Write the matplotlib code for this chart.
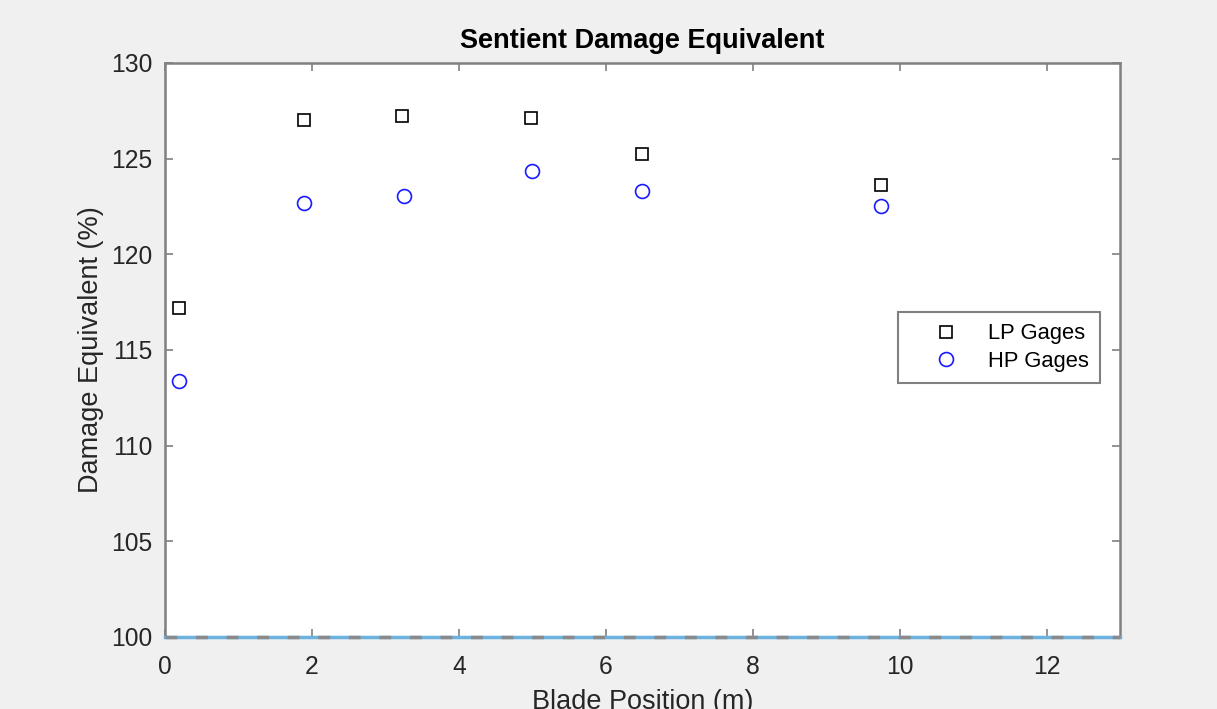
import matplotlib
matplotlib.use("Agg")
import matplotlib.pyplot as plt

plt.rcParams['font.family'] = ['Liberation Sans', 'DejaVu Sans']

lp_x = [0.19, 1.89, 3.22, 4.98, 6.49, 9.74]
lp_y = [117.19, 127.02, 127.23, 127.12, 125.24, 123.62]
hp_x = [0.19, 1.89, 3.25, 4.99, 6.49, 9.74]
hp_y = [113.38, 122.68, 123.05, 124.35, 123.31, 122.52]
ref_x = [0, 13]
ref_y = [100, 100]
xticks = [0, 2, 4, 6, 8, 10, 12]
yticks = [100, 105, 110, 115, 120, 125, 130]

fig = plt.figure(figsize=(12.17, 7.09), dpi=100, facecolor='#f0f0f0')
ax = fig.add_axes([0.1356, 0.1016, 0.7847, 0.8096])
ax.set_facecolor('white')

ax.plot(ref_x, ref_y, color='#6cb2e0', lw=2.5, zorder=3, clip_on=False)
ax.plot(ref_x, ref_y, color='#8a8a8a', lw=2.5, ls=(0, (3.4, 5.4)), zorder=3.1, clip_on=False)

ax.plot(lp_x, lp_y, ls='none', marker='s', ms=8, mfc='none', mec='black', mew=1.2, label='LP Gages', zorder=4)
ax.plot(hp_x, hp_y, ls='none', marker='o', ms=10, mfc='none', mec='#1a1aff', mew=1.2, label='HP Gages', zorder=4)

ax.set_xlim(0, 13)
ax.set_ylim(100, 130)
ax.set_xticks(xticks)
ax.set_yticks(yticks)
ax.tick_params(direction='in', top=True, right=True, labelsize=17.7, colors='#808080',
               labelcolor='#262626', length=6, width=1.2)
ax.tick_params(axis='x', pad=13)
ax.tick_params(axis='y', pad=9)
for s in ax.spines.values():
    s.set_color('#808080')
    s.set_linewidth(1.8)

ax.set_title('Sentient Damage Equivalent', fontsize=19.5, fontweight='bold', color='black', pad=11)
ax.set_xlabel('Blade Position (m)', fontsize=19.5, color='#262626', labelpad=7)
ax.set_ylabel('Damage Equivalent (%)', fontsize=19.5, color='#262626', labelpad=5)

leg = ax.legend(loc='center right', bbox_to_anchor=(0.979, 0.504), fontsize=15.8, fancybox=False,
                framealpha=1, edgecolor='#808080', handletextpad=0.2, borderpad=0.5,
                labelspacing=0.3, handlelength=3.4, borderaxespad=0)
leg.get_frame().set_linewidth(1.5)

fig.savefig('out.png', dpi=100, facecolor=fig.get_facecolor())
